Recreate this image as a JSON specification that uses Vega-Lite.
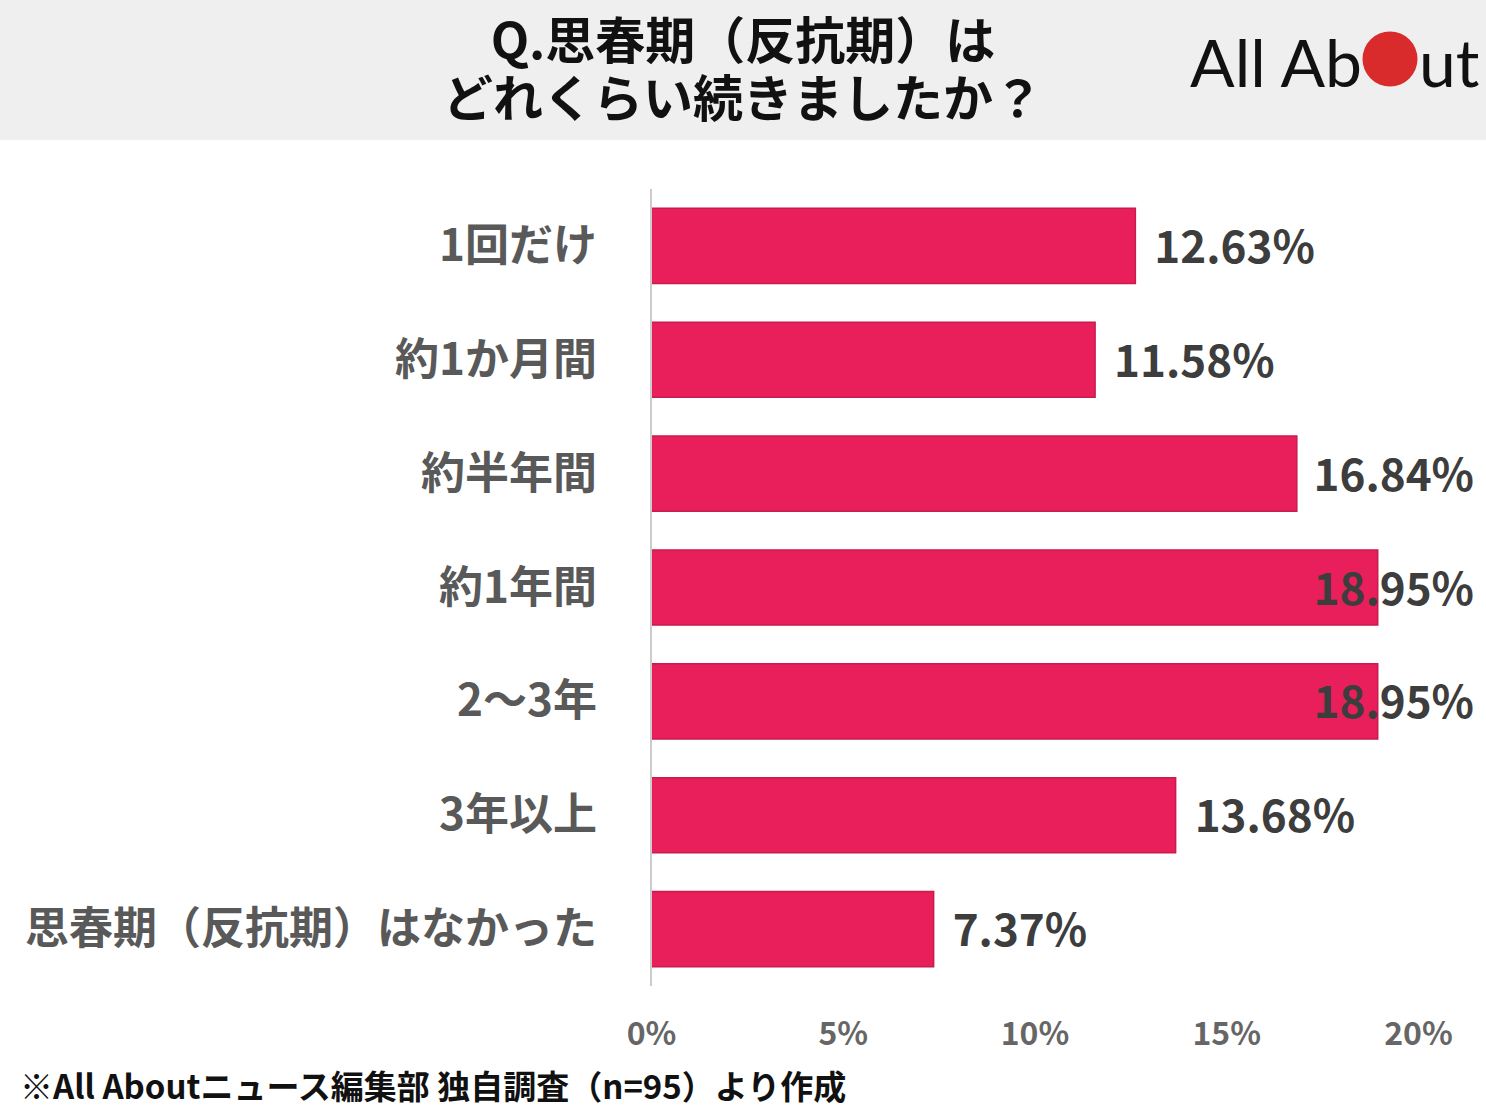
{
  "$schema": "https://vega.github.io/schema/vega-lite/v6.json",
  "padding": 0,
  "spacing": 48,
  "background": "#ffffff",
  "config": {"view": {"stroke": null}, "font": "Noto Sans CJK JP"},
  "vconcat": [
    {
      "width": 1486,
      "height": 140,
      "view": {"fill": "#efefef", "stroke": null},
      "layer": [
        {
          "data": {"values": [
            {"line": 1, "text": "Q.思春期（反抗期）は"},
            {"line": 2, "text": "どれくらい続きましたか？"}
          ]},
          "mark": {"type": "text", "font": "Noto Sans CJK JP", "fontWeight": "bold", "fontSize": 50, "color": "#111111", "baseline": "middle", "dy": 3},
          "encoding": {
            "y": {"field": "line", "type": "ordinal", "axis": null, "scale": {"type": "point", "padding": 0.72}},
            "text": {"field": "text"}
          }
        },
        {
          "data": {"values": [{"t": "All Ab"}]},
          "mark": {"type": "text", "font": "Lato", "fontWeight": 400, "fontSize": 66, "color": "#111111", "align": "right", "baseline": "alphabetic", "dx": 619, "dy": 17},
          "encoding": {"text": {"field": "t"}}
        },
        {
          "data": {"values": [{"t": "ut"}]},
          "mark": {"type": "text", "font": "Lato", "fontWeight": 400, "fontSize": 66, "color": "#111111", "align": "left", "baseline": "alphabetic", "dx": 676, "dy": 17},
          "encoding": {"text": {"field": "t"}}
        },
        {
          "data": {"values": [{"t": "o"}]},
          "mark": {"type": "point", "shape": "circle", "filled": true, "color": "#d92b2b", "opacity": 1, "size": 3025, "xOffset": 647, "yOffset": -11},
          "encoding": {}
        }
      ]
    },
    {
      "width": 1418,
      "height": 797,
      "title": {
        "text": "※All Aboutニュース編集部 独自調査（n=95）より作成",
        "orient": "bottom",
        "anchor": "start",
        "frame": "bounds",
        "dx": 20,
        "offset": 23,
        "font": "Noto Sans CJK JP",
        "fontSize": 33,
        "fontWeight": "bold",
        "color": "#111111"
      },
      "data": {"values": [
        {"category": "1回だけ", "value": 0.1263},
        {"category": "約1か月間", "value": 0.1158},
        {"category": "約半年間", "value": 0.1684},
        {"category": "約1年間", "value": 0.1895},
        {"category": "2〜3年", "value": 0.1895},
        {"category": "3年以上", "value": 0.1368},
        {"category": "思春期（反抗期）はなかった", "value": 0.0737}
      ]},
      "encoding": {
        "y": {
          "field": "category", "type": "nominal", "sort": null, "title": null,
          "scale": {"paddingInner": 0.34, "paddingOuter": 0.17},
          "axis": null
        }
      },
      "layer": [
        {
          "mark": {"type": "bar", "color": "#e81f5a", "stroke": "#c91b4e", "strokeWidth": 1.5},
          "encoding": {
            "x": {
              "field": "value", "type": "quantitative", "title": null,
              "scale": {"domain": [-0.16975, 0.2], "nice": false, "zero": false},
              "axis": {
                "values": [0, 0.05, 0.1, 0.15, 0.2], "format": "~%",
                "grid": false, "domain": false, "ticks": false, "labelFlush": false,
                "labelFontSize": 32, "labelColor": "#666666", "labelPadding": 33,
                "labelFont": "Noto Sans CJK JP", "labelFontWeight": "bold"
              }
            },
            "x2": {"datum": 0}
          }
        },
        {
          "mark": {"type": "rule", "color": "#cccccc", "strokeWidth": 2},
          "encoding": {"x": {"datum": 0}, "y": null}
        },
        {
          "mark": {"type": "text", "align": "right", "baseline": "middle", "dx": -54, "dy": 2, "fontSize": 44, "fontWeight": "bold", "color": "#595959", "font": "Noto Sans CJK JP"},
          "encoding": {
            "x": {"datum": 0},
            "text": {"field": "category"}
          }
        },
        {
          "transform": [{"filter": "datum.value < 0.16"}],
          "mark": {"type": "text", "align": "left", "baseline": "middle", "dx": 19, "dy": 4, "fontSize": 44, "fontWeight": "bold", "color": "#3d3d3d", "font": "Noto Sans CJK JP"},
          "encoding": {
            "x": {"field": "value", "type": "quantitative"},
            "text": {"field": "value", "type": "quantitative", "format": ".2%"}
          }
        },
        {
          "transform": [{"filter": "datum.value >= 0.16"}],
          "mark": {"type": "text", "align": "right", "baseline": "middle", "dx": 56, "dy": 4, "fontSize": 44, "fontWeight": "bold", "color": "#3d3d3d", "font": "Noto Sans CJK JP"},
          "encoding": {
            "x": {"value": "width"},
            "text": {"field": "value", "type": "quantitative", "format": ".2%"}
          }
        }
      ]
    }
  ]
}
